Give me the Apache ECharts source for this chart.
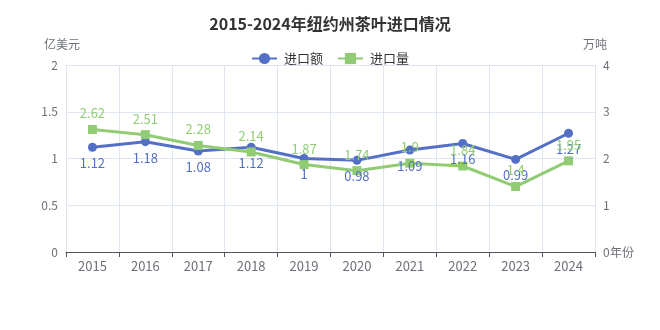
<!DOCTYPE html>
<html><head><meta charset="utf-8">
<script src="https://cdn.jsdelivr.net/npm/echarts@6/dist/echarts.min.js"></script>
<style>html,body{margin:0;padding:0;background:#fff}#c{width:660px;height:330px}</style>
</head><body><div id="c"></div>
<script>
const years = ['2015','2016','2017','2018','2019','2020','2021','2022','2023','2024'];
const importValue = [1.12,1.18,1.08,1.12,1,0.98,1.09,1.16,0.99,1.27];
const importVolume = [2.62,2.51,2.28,2.14,1.87,1.74,1.9,1.84,1.4,1.95];
const font = '"Noto Sans CJK SC", "Noto Sans", sans-serif';
const chart = echarts.init(document.getElementById('c'));
chart.setOption({
  textStyle:{fontFamily:font},
  title:{text:'2015-2024年纽约州茶叶进口情况',left:'center',top:11,textStyle:{fontSize:16,fontWeight:'bold',color:'#333',fontFamily:font}},
  legend:{top:47,itemWidth:25,itemHeight:14,itemGap:14,textStyle:{fontSize:13,color:'#333',fontFamily:font,padding:[0,0,0,2]},data:['进口额','进口量']},
  grid:{left:66,right:65,top:65,bottom:78},
  xAxis:{type:'category',data:years,name:'年份',nameGap:15,nameMoveOverlap:false,nameTextStyle:{color:'#6e7079',fontSize:12},
    axisLabel:{fontSize:13,color:'#6e7079'},axisTick:{show:true},
    splitLine:{show:true,lineStyle:{color:'#e0e6f1'}}},
  yAxis:[
    {type:'value',name:'亿美元',min:0,max:2,interval:0.5,nameTextStyle:{color:'#6e7079',fontSize:12,padding:[0,8,0,0]},
     axisLabel:{color:'#6e7079',fontSize:12},splitLine:{lineStyle:{color:'#e0e6f1'}}},
    {type:'value',name:'万吨',min:0,max:4,interval:1,nameTextStyle:{color:'#6e7079',fontSize:12},
     axisLabel:{color:'#6e7079',fontSize:12},splitLine:{show:false}}
  ],
  series:[
    {name:'进口额',type:'line',data:importValue,yAxisIndex:0,symbol:'circle',symbolSize:9,
     itemStyle:{color:'#5470c6'},lineStyle:{width:3},
     label:{show:true,position:'bottom',color:'#5470c6',fontSize:13}},
    {name:'进口量',type:'line',data:importVolume,yAxisIndex:1,symbol:'rect',symbolSize:9,
     itemStyle:{color:'#91cc75'},lineStyle:{width:3},
     label:{show:true,position:'top',color:'#91cc75',fontSize:13}}
  ]
});
</script></body></html>
